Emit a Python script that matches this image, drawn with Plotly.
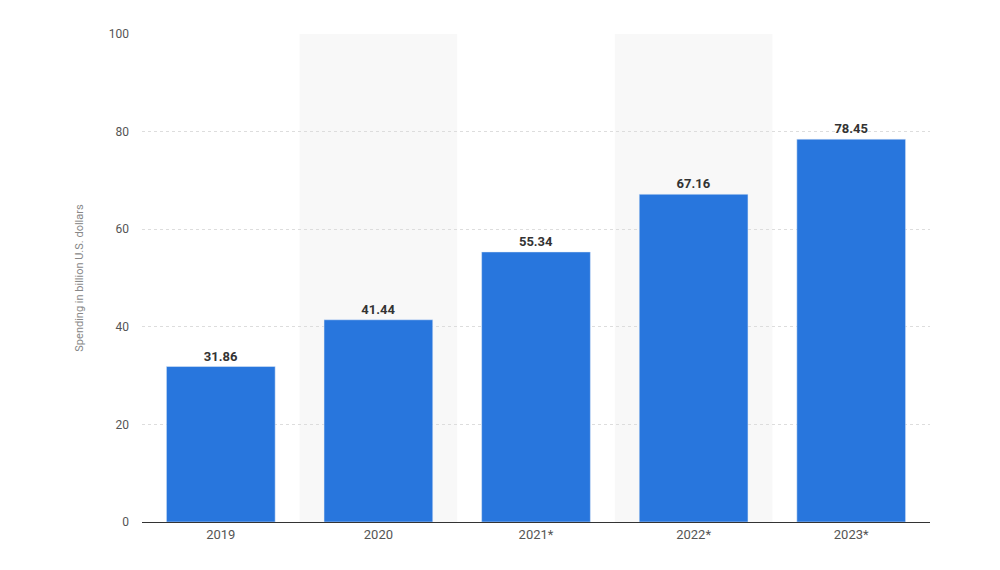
import plotly.graph_objects as go

years = ["2019", "2020", "2021*", "2022*", "2023*"]
spending = [31.86, 41.44, 55.34, 67.16, 78.45]
labels = ["31.86", "41.44", "55.34", "67.16", "78.45"]

fig = go.Figure(go.Bar(
    x=years, y=spending, text=labels, textposition="outside",
    textfont=dict(family="Roboto", size=13, color="#333333"),
    marker_color="#2876dd", width=0.69, cliponaxis=False,
))
shapes = []
for i in (1, 3):
    shapes.append(dict(type="rect", xref="x", yref="paper", x0=i-0.5, x1=i+0.5, y0=0, y1=1,
                       fillcolor="#f8f8f8", line_width=0, layer="below"))
fig.update_layout(
    width=1000, height=570, shapes=shapes,
    margin=dict(l=134, r=78, t=26, b=56),
    plot_bgcolor="white", paper_bgcolor="white",
    showlegend=False, bargap=0.31,
    font=dict(family="Roboto", color="#666666", size=12),
    xaxis=dict(showline=True, linecolor="#333333", linewidth=1, ticks="",
               tickfont=dict(size=13, color="#555555")),
    yaxis=dict(range=[0, 100], dtick=20, gridcolor="#dddddd", griddash="dot",
               zeroline=False, ticks="", ticklabelstandoff=12,
               title=dict(text="Spending in billion U.S. dollars", font=dict(size=11, color="#888888"), standoff=22),
               tickfont=dict(size=12, color="#555555")),
)
fig.update_traces(texttemplate="<b>%{text}</b>")
fig.write_html("out.html")
